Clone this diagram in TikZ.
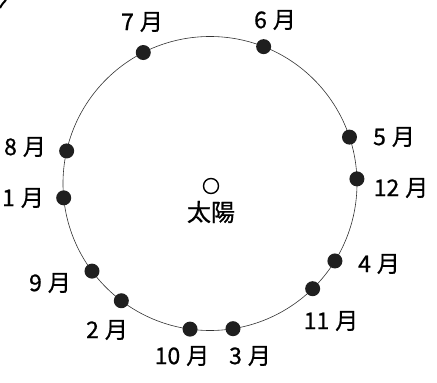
\documentclass[tikz,border=0pt]{standalone}
\usepackage{fontspec}
\setmainfont{Noto Sans CJK JP}
\newfontfamily\labfont[FakeBold=0.8]{Noto Sans CJK JP}
\usetikzlibrary{calc}
\tikzset{
  orbit/.style={draw=black!80, line width=0.6pt},
  planet/.style={circle, fill=black!88, inner sep=0pt, minimum size=15pt},
  mlabel/.style={font=\labfont\fontsize{23}{25}\selectfont, inner sep=0pt, anchor=center},
  sun/.style={circle, draw=black, line width=1.4pt, inner sep=0pt, minimum size=15pt}
}
\newcommand{\mon}[1]{#1\hspace{6pt}月}
\begin{document}
\begin{tikzpicture}[x=1pt,y=1pt]
\useasboundingbox (0,0) rectangle (437,383);
\fill[white] (0,0) rectangle (437,383);
% corner fragment
\draw[line width=2pt] (0,375) .. controls (2,379) and (4,381) .. (6,383);
\coordinate (C) at (210,199.5);
\draw[orbit] (C) circle (147);
\foreach \n/\a in {7/117, 6/68.6, 5/18.4, 12/1.8, 4/-31.8, 11/-45.7, 3/-81, 10/-97.8, 2/-127.1, 9/-143.4, 1/185.6, 8/167.2}{
  \node[planet] (m\n) at ($(C)+(\a:147)$) {};
}
\node[mlabel] (l7) at (142,361) {\mon{7}};
\node[mlabel] (l6) at (275,363) {\mon{6}};
\node[mlabel] (l5) at (394,246) {\mon{5}};
\node[mlabel] (l12) at (401,195) {\mon{12}};
\node[mlabel] (l4) at (379,119) {\mon{4}};
\node[mlabel] (l11) at (331,62) {\mon{11}};
\node[mlabel] (l3) at (250,27) {\mon{3}};
\node[mlabel] (l10) at (182,27) {\mon{10}};
\node[mlabel] (l2) at (107,53) {\mon{2}};
\node[mlabel] (l9) at (50,100) {\mon{9}};
\node[mlabel] (l1) at (23,185) {\mon{1}};
\node[mlabel] (l8) at (25,236) {\mon{8}};
\node[sun] (sun) at (211,197) {};
\node[mlabel, font=\labfont\fontsize{24}{26}\selectfont] (sunlabel) at (211,171) {太陽};
\end{tikzpicture}
\end{document}
